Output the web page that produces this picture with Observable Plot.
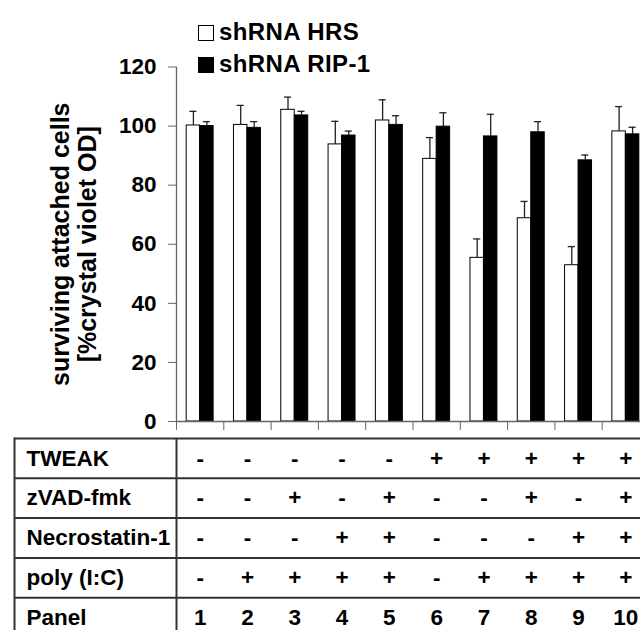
<!DOCTYPE html>
<html>
<head>
<meta charset="utf-8">
<script src="https://cdn.jsdelivr.net/npm/d3@7"></script>
<script src="https://cdn.jsdelivr.net/npm/@observablehq/plot@0.6"></script>
<style>
  body { margin: 0; background: #fff; }
  #wrap { position: relative; width: 640px; height: 630px; overflow: hidden; font-family: "Liberation Sans", Arial, sans-serif; font-weight: bold; }
  #legend { position: absolute; left: 198px; top: 16px; font-size: 24px; letter-spacing: 0.4px; line-height: 32px; }
  .sw { display: inline-block; width: 14px; height: 14px; border: 1.5px solid #000; margin-right: 5px; vertical-align: -1px; box-sizing: content-box; }
  svg { display: block; }
</style>
</head>
<body>
<div id="wrap">
  <div id="chart"></div>
  <div id="table"></div>
  <div id="legend"></div>
</div>
<script>
// ---- data ----
const panels = [1, 2, 3, 4, 5, 6, 7, 8, 9, 10];
const seriesNames = ["shRNA HRS", "shRNA RIP-1"];
const seriesFills = ["#ffffff", "#000000"];
const hrs    = [100.2, 100.4, 105.5, 93.8, 101.9, 88.9, 55.4, 68.8, 52.9, 98.2];
const hrsErr = [4.8, 6.6, 4.3, 7.8, 7.0, 7.2, 6.4, 5.7, 6.3, 8.4];
const rip    = [100.0, 99.4, 103.6, 96.8, 100.4, 99.8, 96.5, 97.9, 88.4, 97.2];
const ripErr = [1.5, 2.1, 1.4, 1.5, 3.1, 4.7, 7.5, 3.6, 1.8, 2.4];
const yTicks = [0, 20, 40, 60, 80, 100, 120];
const yTitle = "surviving attached cells\n[%crystal violet OD]";
const rowLabels = ["TWEAK", "zVAD-fmk", "Necrostatin-1", "poly (I:C)", "Panel"];
const tweak  = ["-", "-", "-", "-", "-", "+", "+", "+", "+", "+"];
const zvad   = ["-", "-", "+", "-", "+", "-", "-", "+", "-", "+"];
const necro  = ["-", "-", "-", "+", "+", "-", "-", "-", "+", "+"];
const polyIC = ["-", "+", "+", "+", "+", "-", "+", "+", "+", "+"];

// ---- build tables ----
const bars = [];
panels.forEach((p, i) => {
  bars.push({panel: p, s: 0, v: hrs[i], e: hrsErr[i]});
  bars.push({panel: p, s: 1, v: rip[i], e: ripErr[i]});
});
const barL = s => s === 0 ? 0.215 : 0.5;
const barR = s => s === 0 ? 0.5 : 0.785;
const center = d => d.panel - 1 + (barL(d.s) + barR(d.s)) / 2;

const xOpts = {domain: [0, 10], range: [176, 649]};
const font = "Liberation Sans, Arial, sans-serif";

const chart = Plot.plot({
  width: 640, height: 436,
  marginTop: 66.5, marginBottom: 15, marginLeft: 176, marginRight: 0,
  style: {fontFamily: font, fontWeight: "bold", background: "#fff"},
  x: xOpts,
  y: {domain: [0, 120]},
  marks: [
    Plot.rectY(bars, {
      x1: d => d.panel - 1 + barL(d.s), x2: d => d.panel - 1 + barR(d.s),
      y1: 0, y2: "v",
      fill: d => seriesFills[d.s], stroke: "#000", strokeWidth: 1
    }),
    Plot.ruleX(bars, {x: center, y1: "v", y2: d => d.v + d.e, stroke: "#222", strokeWidth: 1.3}),
    Plot.ruleY(bars, {y: d => d.v + d.e, x1: d => center(d) - 0.075, x2: d => center(d) + 0.075, stroke: "#222", strokeWidth: 1.3}),
    Plot.ruleX([0], {y1: 0, y2: 120, stroke: "#666", strokeWidth: 1.3}),
    Plot.ruleY([0], {stroke: "#666", strokeWidth: 1.3}),
    Plot.axisY({ticks: yTicks, tickSize: 8, tickPadding: 12, stroke: "#666", fill: "#000", fontSize: 22.5, fontWeight: "bold", label: null}),
    Plot.axisX({ticks: d3.range(0, 11), tickSize: 9, tickFormat: () => "", stroke: "#666", label: null}),
    Plot.text([yTitle], {
      frameAnchor: "left", textAnchor: "middle", lineAnchor: "middle",
      dx: -103, rotate: -90, fontSize: 25, fontWeight: "bold",
      lineHeight: 1.08, fill: "#000"
    })
  ]
});
document.getElementById("chart").appendChild(chart);

// ---- table ----
const rowsVals = [tweak, zvad, necro, polyIC, panels.map(String)];
const cells = [];
rowsVals.forEach((vals, r) => vals.forEach((v, i) => cells.push({row: r, panel: panels[i], v})));

const table = Plot.plot({
  width: 640, height: 194,
  marginTop: 2, marginBottom: 0, marginLeft: 14, marginRight: 0,
  style: {fontFamily: font, fontWeight: "bold", background: "#fff"},
  x: {...xOpts, axis: null},
  y: {domain: [0, 5], range: [2, 201], axis: null},
  marks: [
    Plot.ruleY([0, 1, 2, 3, 4, 5], {stroke: "#333", strokeWidth: 2}),
    Plot.frame({anchor: "left", stroke: "#333", strokeWidth: 2}),
    Plot.ruleX([0], {y1: 0, y2: 5, stroke: "#333", strokeWidth: 2}),
    Plot.text(rowLabels, {
      y: (d, i) => i + 0.5, frameAnchor: "left", dx: 12, textAnchor: "start",
      fontSize: 22.5, fontWeight: "bold", fill: "#000"
    }),
    Plot.text(cells, {
      x: d => d.panel - 0.5, y: d => d.row + 0.5, text: "v",
      fontSize: 22.5, fontWeight: "bold", fill: "#000"
    })
  ]
});
document.getElementById("table").appendChild(table);

// ---- legend ----
const legend = document.getElementById("legend");
seriesNames.forEach((name, i) => {
  const row = document.createElement("div");
  const sw = document.createElement("span");
  sw.className = "sw";
  sw.style.background = seriesFills[i];
  row.appendChild(sw);
  row.appendChild(document.createTextNode(name));
  legend.appendChild(row);
});
</script>
</body>
</html>
